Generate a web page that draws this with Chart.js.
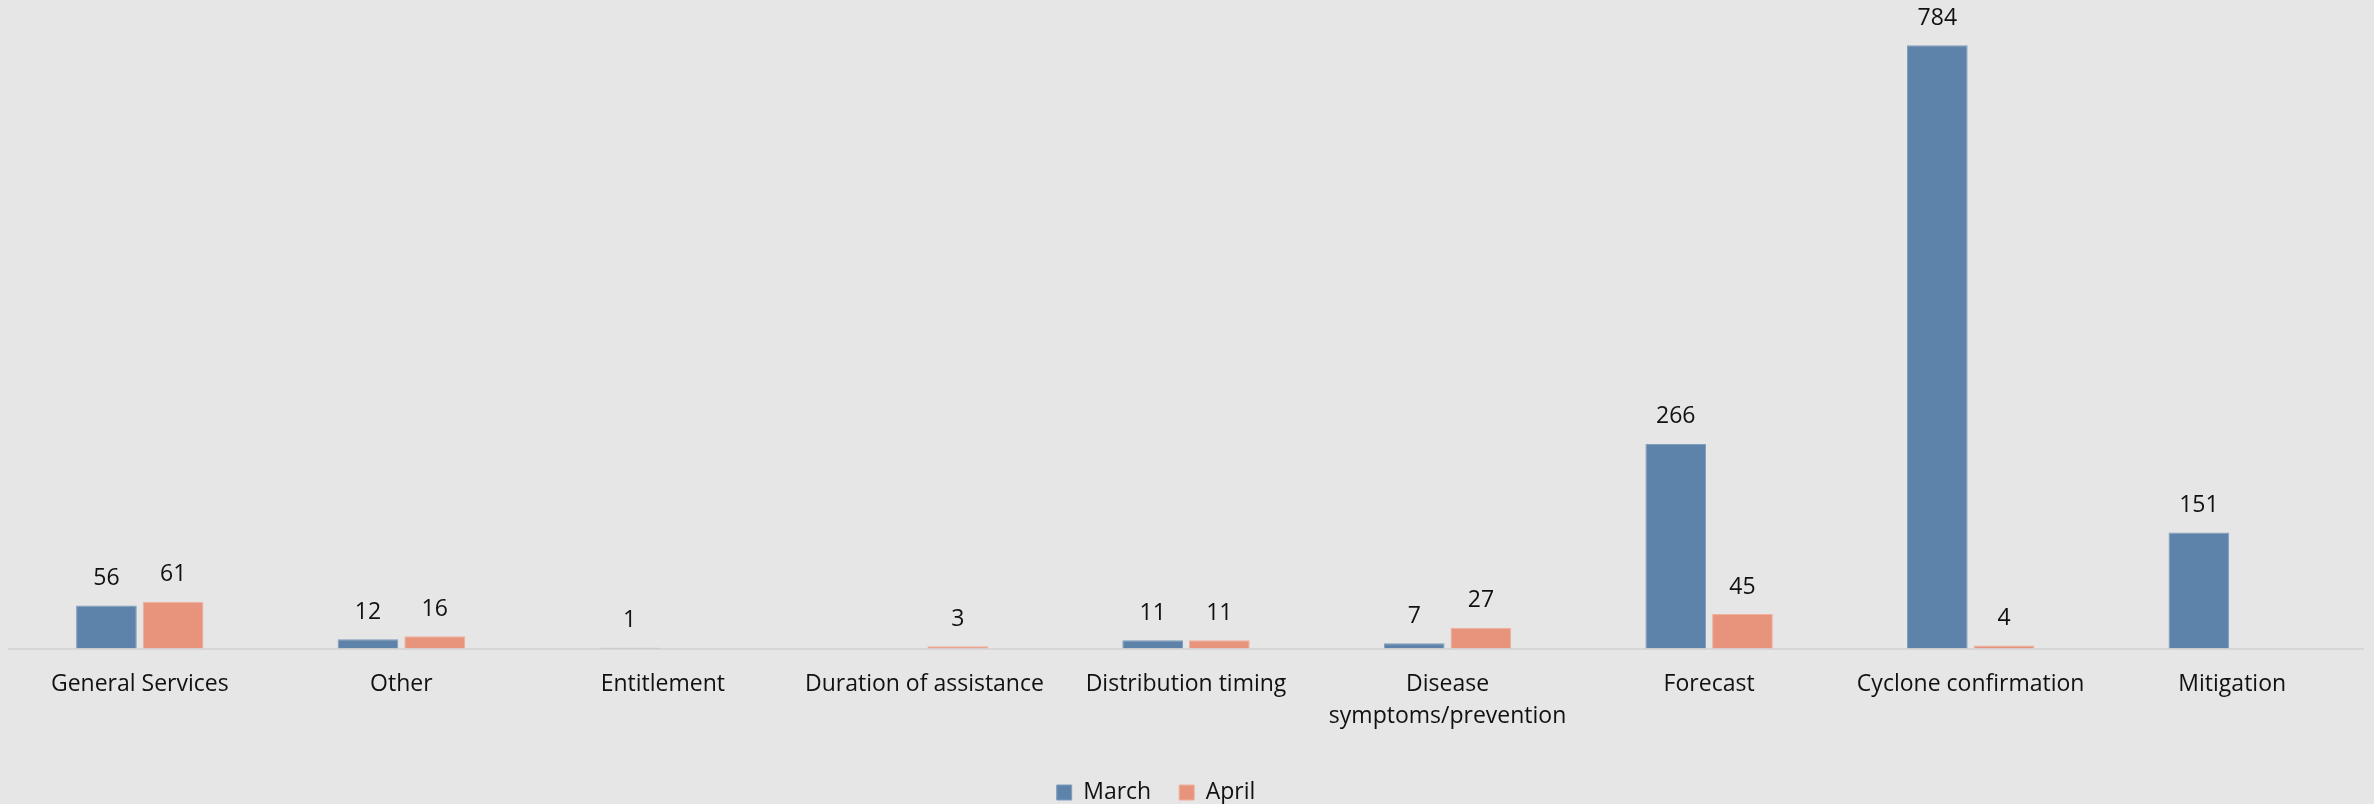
<!DOCTYPE html>
<html>
<head>
<meta charset="utf-8">
<title>Consultas por tema</title>
<script src="https://cdn.jsdelivr.net/npm/chart.js@4.4.1/dist/chart.umd.min.js"></script>
<style>
  html, body { margin: 0; padding: 0; background: #e6e6e6; }
  #contenedor { width: 2374px; height: 804px; }
</style>
</head>
<body>
<div id="contenedor"><canvas id="graficoTemas" width="2374" height="804"></canvas></div>
<script>
// Datos del grafico (consultas por tema, marzo y abril)
const categorias = [
  'General Services', 'Other', 'Entitlement', 'Duration of assistance',
  'Distribution timing', ['Disease', 'symptoms/prevention'], 'Forecast',
  'Cyclone confirmation', 'Mitigation'
];
const valoresMarzo = [56, 12, 1, null, 11, 7, 266, 784, 151];
const valoresAbril = [61, 16, null, 3, 11, 27, 45, 4, null];
const nombresSeries = ['March', 'April'];

const fuente = '"Open Sans", "DejaVu Sans", sans-serif';

// Plugin para escribir el valor encima de cada barra
const etiquetasValores = {
  id: 'etiquetasValores',
  afterDatasetsDraw(chart) {
    const ctx = chart.ctx;
    ctx.save();
    ctx.font = '23px ' + fuente;
    ctx.fillStyle = '#111111';
    ctx.textAlign = 'center';
    ctx.textBaseline = 'middle';
    chart.data.datasets.forEach((ds, i) => {
      const meta = chart.getDatasetMeta(i);
      meta.data.forEach((barra, j) => {
        const valor = ds.data[j];
        if (valor === null || valor === undefined) return;
        ctx.fillText(String(valor), barra.x, barra.y - 27);
      });
    });
    ctx.restore();
  }
};

// La leyenda va un poco a la izquierda del centro
const moverLeyenda = {
  id: 'moverLeyenda',
  afterLayout(chart) {
    chart.legend.left -= 30;
    chart.legend.right -= 30;
  }
};

const ctxTemas = document.getElementById('graficoTemas').getContext('2d');

new Chart(ctxTemas, {
  type: 'bar',
  data: {
    labels: categorias,
    datasets: [{
      label: nombresSeries[0],
      data: valoresMarzo,
      backgroundColor: '#5e83aa',
      borderColor: '#7f9dbd',
      borderWidth: 1,
      categoryPercentage: 0.51,
      barPercentage: 0.91
    }, {
      label: nombresSeries[1],
      data: valoresAbril,
      backgroundColor: '#e8937b',
      borderColor: '#efb09c',
      borderWidth: 1,
      categoryPercentage: 0.51,
      barPercentage: 0.91
    }]
  },
  options: {
    responsive: false,
    animation: false,
    devicePixelRatio: 1,
    layout: {
      // el fondo negativo baja la leyenda hasta el borde
      padding: { left: 9, right: 11, top: 33, bottom: -10 }
    },
    scales: {
      y: {
        display: false,
        min: 0,
        max: 800
      },
      x: {
        grid: { display: false, drawTicks: false },
        border: { display: true, color: '#d6d6d6', width: 2 },
        ticks: {
          color: '#111111',
          padding: 20,
          maxRotation: 0,
          autoSkip: false,
          font: { family: fuente, size: 23, lineHeight: 1.4 }
        }
      }
    },
    plugins: {
      legend: {
        position: 'bottom',
        labels: {
          color: '#111111',
          boxWidth: 15,
          boxHeight: 15,
          padding: 28,
          font: { family: fuente, size: 23 }
        }
      },
      tooltip: { enabled: false }
    }
  },
  plugins: [etiquetasValores, moverLeyenda]
});
</script>
</body>
</html>
